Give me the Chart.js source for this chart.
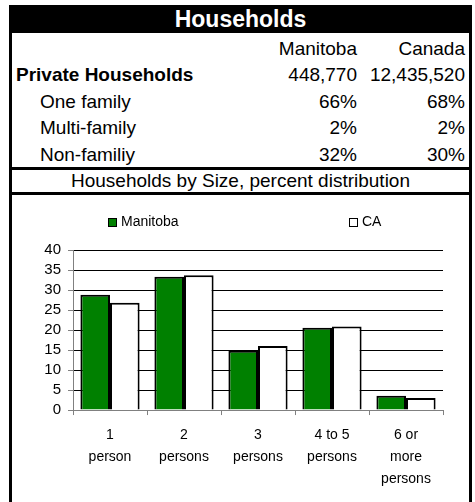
<!DOCTYPE html>
<html>
<head>
<meta charset="utf-8">
<script src="https://cdn.jsdelivr.net/npm/chart.js@4.4.1/dist/chart.umd.min.js"></script>
<style>
  html, body { margin: 0; padding: 0; background: #fff; }
  body { width: 475px; height: 502px; position: relative; overflow: hidden;
         font-family: "Liberation Sans", Arial, sans-serif; color: #000; }
  .abs { position: absolute; }
  #title { left: 9px; top: 5px; width: 463px; height: 28px; background: #000; color: #fff;
           font-weight: bold; font-size: 23px; line-height: 28px; text-align: center; }
  .vline { top: 5px; width: 3px; height: 497px; background: #000; }
  .hline { left: 9px; width: 463px; height: 3px; background: #000; }
  .row { left: 12px; width: 457px; height: 26px; line-height: 26px; font-size: 19px; white-space: nowrap; }
  .row span { position: absolute; }
  .c1 { right: 112px; }
  .c2 { right: 4px; }
  #subtitle { left: 12px; width: 457px; top: 169px; height: 24px; line-height: 24px;
              font-size: 19px; text-align: center; }
  #wrap { left: 12px; top: 195px; width: 457px; height: 307px; }
  .leg { top: 213px; height: 16px; line-height: 16px; font-size: 14px; white-space: nowrap; }
  .leg i { display: inline-block; width: 7px; height: 7px; border: 1px solid #000;
           margin-right: 4px; vertical-align: -1px; }
</style>
</head>
<body>
<div id="title" class="abs">Households</div>
<div class="abs vline" style="left:9px"></div>
<div class="abs vline" style="left:469px"></div>
<div id="table"></div>
<div class="abs hline" style="top:167px"></div>
<div id="subtitle" class="abs">Households by Size, percent distribution</div>
<div class="abs hline" style="top:192px"></div>
<div id="wrap" class="abs"><canvas id="myChart" width="457" height="307"></canvas></div>
<div id="legend"></div>

<script>
// table values
var regions = ["Manitoba", "Canada"];
var rowLabels = ["Private Households", "One family", "Multi-family", "Non-familiy"];
var manitobaRow = ["448,770", "66%", "2%", "32%"];
var canadaRow = ["12,435,520", "68%", "2%", "30%"];

// chart values
var sizes = [["1", "person"], ["2", "persons"], ["3", "persons"], ["4 to 5", "persons"], ["6 or", "more", "persons"]];
var manitoba = [28.8, 33.3, 14.8, 20.6, 3.6];
var canada = [26.8, 33.7, 16.0, 20.9, 3.0];
var seriesNames = ["Manitoba", "CA"];
var seriesColors = ["#008000", "#ffffff"];

var rowTops = [36, 62, 89, 115, 142];
var html = '<div class="abs row" style="top:' + rowTops[0] + 'px"><span class="c1">' + regions[0] +
    '</span><span class="c2">' + regions[1] + '</span></div>';
for (var i = 0; i < rowLabels.length; i++) {
    var left = i == 0 ? 4 : 28;
    var weight = i == 0 ? 'bold' : 'normal';
    html += '<div class="abs row" style="top:' + rowTops[i + 1] + 'px"><span style="left:' + left +
        'px;font-weight:' + weight + '">' + rowLabels[i] + '</span><span class="c1">' + manitobaRow[i] +
        '</span><span class="c2">' + canadaRow[i] + '</span></div>';
}
document.getElementById('table').innerHTML = html;

Chart.defaults.font.family = "'Liberation Sans', Arial, sans-serif";
Chart.defaults.color = '#000';

var chart = new Chart(document.getElementById('myChart'), {
    type: 'bar',
    data: {
        labels: sizes,
        datasets: [{
            label: seriesNames[0],
            data: manitoba,
            backgroundColor: seriesColors[0],
            borderColor: '#000',
            borderWidth: 2,
            categoryPercentage: 0.8,
            barPercentage: 1.0
        }, {
            label: seriesNames[1],
            data: canada,
            backgroundColor: seriesColors[1],
            borderColor: '#000',
            borderWidth: 2,
            categoryPercentage: 0.8,
            barPercentage: 1.0
        }]
    },
    options: {
        responsive: false,
        animation: false,
        layout: { padding: { top: 55, left: 0, right: 26, bottom: 3 } },
        plugins: {
            legend: { display: false },
            tooltip: { enabled: false }
        },
        scales: {
            x: {
                grid: { drawOnChartArea: false, tickLength: 5, color: '#808080' },
                border: { color: '#808080' },
                ticks: { font: { size: 14, lineHeight: 1.57 }, maxRotation: 0, padding: 9 }
            },
            y: {
                min: 0,
                max: 40,
                ticks: { stepSize: 5, autoSkip: false, font: { size: 15 }, padding: 7 },
                grid: {
                    color: function (ctx) { return ctx.tick && ctx.tick.value === 0 ? 'rgba(0,0,0,0)' : '#000'; },
                    tickColor: '#808080',
                    tickLength: 5
                },
                border: { color: '#808080' },
                afterFit: function (scale) { scale.width = 61; }
            }
        }
    }
});

// legend laid out above the plot, like the spreadsheet one
var legendX = [108, 349];
var leg = '';
chart.data.datasets.forEach(function (ds, k) {
    leg += '<div class="abs leg" style="left:' + legendX[k] + 'px"><i style="background:' +
        ds.backgroundColor + '"></i>' + ds.label + '</div>';
});
document.getElementById('legend').innerHTML = leg;
</script>
</body>
</html>
